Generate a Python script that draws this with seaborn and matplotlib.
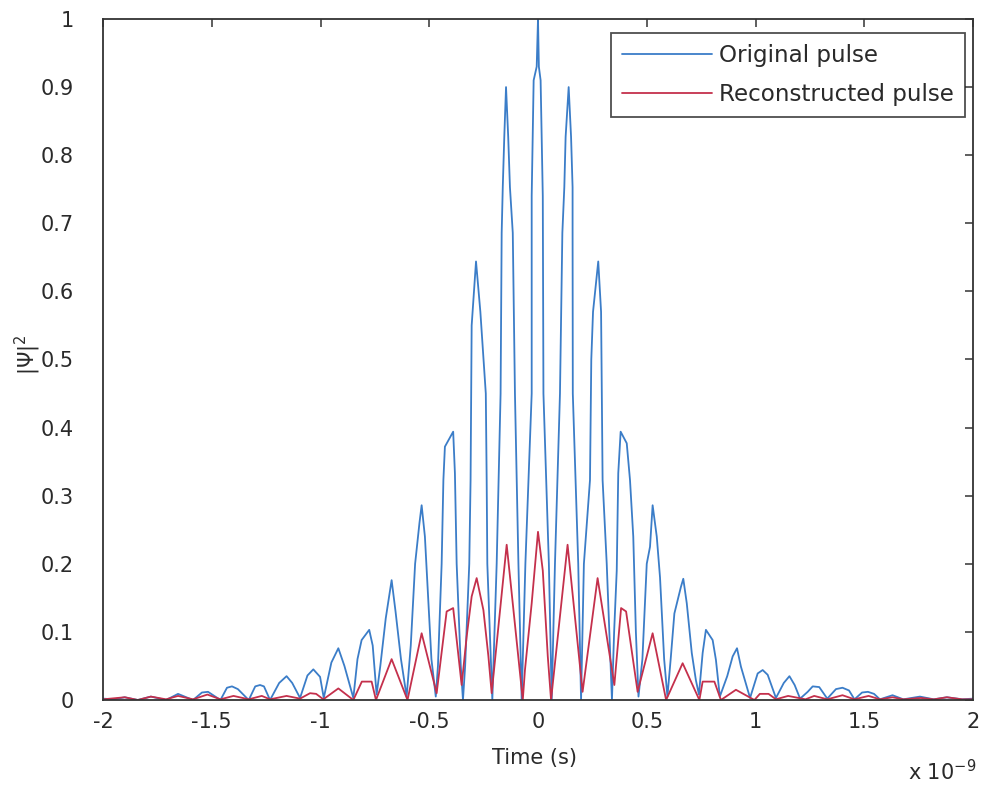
import matplotlib
matplotlib.use("Agg")
import matplotlib.pyplot as plt
import seaborn as sns
import pandas as pd

# ---- data (time in units of 1e-9 s) ----
blue_t = [-2.0, -1.95, -1.9, -1.84, -1.78, -1.71, -1.655, -1.586, -1.545, -1.517, -1.46,
          -1.43, -1.407, -1.38, -1.33, -1.30, -1.278, -1.26, -1.232, -1.19, -1.156, -1.13,
          -1.094, -1.06, -1.033, -1.002, -0.985, -0.95, -0.918, -0.89, -0.849, -0.83, -0.811,
          -0.776, -0.76, -0.742, -0.725, -0.70, -0.673, -0.655, -0.63, -0.604,
          -0.585, -0.565, -0.545, -0.535, -0.52, -0.505, -0.49, -0.47,
          -0.46, -0.443, -0.435, -0.428, -0.39, -0.382, -0.374, -0.355, -0.345,
          -0.335, -0.316, -0.31, -0.305, -0.285, -0.265, -0.24, -0.236, -0.233, -0.21,
          -0.19, -0.172, -0.167, -0.162, -0.155, -0.147, -0.137, -0.129, -0.116, -0.106, -0.09, -0.075,
          -0.058, -0.029, -0.029, -0.02, -0.006, 0.0, 0.004, 0.012, 0.022, 0.025, 0.05, 0.063,
          0.078, 0.101, 0.112, 0.121, 0.127, 0.141, 0.152, 0.159, 0.159, 0.16, 0.185, 0.198,
          0.211, 0.239, 0.245, 0.253, 0.277, 0.29, 0.293, 0.297, 0.316, 0.34,
          0.35, 0.362, 0.369, 0.38, 0.408, 0.423, 0.438, 0.45, 0.462,
          0.48, 0.5, 0.515, 0.527, 0.546, 0.561, 0.58, 0.595,
          0.61, 0.627, 0.657, 0.668, 0.684, 0.707, 0.726, 0.74,
          0.757, 0.772, 0.803, 0.818, 0.836,
          0.87, 0.895, 0.915, 0.933, 0.975,
          1.01, 1.033, 1.056, 1.094,
          1.13, 1.156, 1.18, 1.205,
          1.24, 1.263, 1.293, 1.33,
          1.37, 1.40, 1.43, 1.455,
          1.49, 1.517, 1.545, 1.572,
          1.63, 1.68, 1.756, 1.82, 1.88, 1.95, 2.0]
blue_y = [0.002, 0.001, 0.004, 0.0, 0.005, 0.0, 0.009, 0.0, 0.011, 0.012, 0.0,
          0.018, 0.02, 0.016, 0.0, 0.02, 0.022, 0.02, 0.0, 0.025, 0.035, 0.025,
          0.003, 0.036, 0.045, 0.034, 0.003, 0.055, 0.076, 0.05, 0.003, 0.06, 0.088,
          0.103, 0.08, 0.008, 0.05, 0.12, 0.176, 0.13, 0.06, 0.005,
          0.08, 0.2, 0.26, 0.286, 0.24, 0.15, 0.06, 0.005,
          0.05, 0.2, 0.323, 0.372, 0.394, 0.333, 0.2, 0.05, 0.0,
          0.05, 0.2, 0.323, 0.55, 0.644, 0.57, 0.45, 0.323, 0.2, 0.0,
          0.2, 0.45, 0.686, 0.753, 0.827, 0.9, 0.827, 0.753, 0.686, 0.45, 0.2, 0.0,
          0.2, 0.45, 0.74, 0.91, 0.93, 1.0, 0.93, 0.91, 0.74, 0.45, 0.2, 0.0,
          0.2, 0.45, 0.686, 0.753, 0.827, 0.9, 0.827, 0.753, 0.686, 0.45, 0.2, 0.0,
          0.2, 0.323, 0.5, 0.57, 0.644, 0.57, 0.47, 0.323, 0.2, 0.0,
          0.1, 0.19, 0.333, 0.394, 0.377, 0.323, 0.24, 0.1, 0.005,
          0.06, 0.2, 0.225, 0.286, 0.24, 0.18, 0.06, 0.005,
          0.06, 0.127, 0.166, 0.178, 0.142, 0.069, 0.029, 0.008,
          0.069, 0.103, 0.088, 0.059, 0.005,
          0.035, 0.064, 0.076, 0.049, 0.003,
          0.039, 0.044, 0.037, 0.003,
          0.025, 0.035, 0.022, 0.002,
          0.012, 0.02, 0.019, 0.002,
          0.016, 0.018, 0.014, 0.001,
          0.011, 0.012, 0.009, 0.001,
          0.007, 0.001, 0.005, 0.001, 0.004, 0.001, 0.002]

red_t = [-2.0, -1.9, -1.84, -1.78, -1.71, -1.655, -1.586, -1.52, -1.46, -1.40, -1.33,
         -1.27, -1.232, -1.156, -1.094, -1.048, -1.02, -0.987, -0.918, -0.849, -0.81,
         -0.765, -0.745, -0.673, -0.6, -0.535, -0.466, -0.42, -0.39, -0.351, -0.328,
         -0.305, -0.282, -0.251, -0.228, -0.213, -0.144, -0.07, -0.06, -0.029, 0.0,
         0.022, 0.045, 0.06, 0.136, 0.205, 0.274, 0.351, 0.382, 0.405, 0.458, 0.527,
         0.589, 0.665, 0.742, 0.757, 0.811, 0.841, 0.91, 0.995, 1.02, 1.06, 1.094,
         1.15, 1.23, 1.27, 1.33, 1.40, 1.455, 1.52, 1.572, 1.63, 1.68, 1.76, 1.82,
         1.88, 1.95, 2.0]
red_y = [0.001, 0.004, 0.0, 0.005, 0.001, 0.006, 0.001, 0.008, 0.001, 0.006, 0.001,
         0.006, 0.001, 0.006, 0.002, 0.01, 0.009, 0.001, 0.017, 0.0, 0.027,
         0.027, 0.0, 0.06, 0.0, 0.098, 0.01, 0.13, 0.135, 0.022, 0.093,
         0.152, 0.179, 0.132, 0.064, 0.01, 0.228, 0.0, 0.044, 0.142, 0.247,
         0.19, 0.064, 0.0, 0.228, 0.012, 0.179, 0.022, 0.135, 0.13, 0.012, 0.098,
         0.0, 0.054, 0.0, 0.027, 0.027, 0.0, 0.015, 0.0, 0.009, 0.009, 0.001,
         0.006, 0.001, 0.006, 0.001, 0.007, 0.001, 0.006, 0.001, 0.004, 0.001, 0.003, 0.001,
         0.004, 0.001, 0.001]

x_ticks = [-2, -1.5, -1, -0.5, 0, 0.5, 1, 1.5, 2]
x_tick_labels = ["-2", "-1.5", "-1", "-0.5", "0", "0.5", "1", "1.5", "2"]
y_ticks = [0, 0.1, 0.2, 0.3, 0.4, 0.5, 0.6, 0.7, 0.8, 0.9, 1]
y_tick_labels = ["0", "0.1", "0.2", "0.3", "0.4", "0.5", "0.6", "0.7", "0.8", "0.9", "1"]
series_names = ["Original pulse", "Reconstructed pulse"]

# ---- style ----
sns.set_style("white")
plt.rcParams["font.family"] = ["DejaVu Sans"]
plt.rcParams["axes.unicode_minus"] = False
plt.rcParams["mathtext.fontset"] = "dejavusans"

text_color = "#2a2a2a"
blue = "#3b7dc8"
red = "#c4304c"
fs = 15

W, H = 981, 786
fig = plt.figure(figsize=(W / 100, H / 100), dpi=100)
fig.patch.set_facecolor("white")
ax = fig.add_axes([103 / W, 1 - 700 / H, (973 - 103) / W, (700 - 19) / H])

df_b = pd.DataFrame({"t": blue_t, "y": blue_y})
df_r = pd.DataFrame({"t": red_t, "y": red_y})
sns.lineplot(data=df_b, x="t", y="y", ax=ax, sort=False, estimator=None,
             color=blue, linewidth=1.3, label=series_names[0])
sns.lineplot(data=df_r, x="t", y="y", ax=ax, sort=False, estimator=None,
             color=red, linewidth=1.3, label=series_names[1])

ax.set_xlim(-2, 2)
ax.set_ylim(0, 1)
ax.set_xticks(x_ticks)
ax.set_xticklabels(x_tick_labels)
ax.set_yticks(y_ticks)
ax.set_yticklabels(y_tick_labels)

for s in ax.spines.values():
    s.set_visible(True)
    s.set_color("#333333")
    s.set_linewidth(1.3)

ax.tick_params(axis="both", which="both", direction="in", length=5.5, width=1.1,
               color="#333333", top=True, right=True, labelsize=fs, labelcolor=text_color)
ax.tick_params(axis="y", pad=21)
ax.tick_params(axis="x", pad=9)

ax.set_xlabel("Time (s)", fontsize=fs, color=text_color)
ax.set_ylabel(r"$|\Psi|^2$", fontsize=fs, color=text_color)
ax.xaxis.set_label_coords((535 - 103) / 870, (700 - 748) / 681)
ax.yaxis.set_label_coords((43 - 103) / 870, (700 - 355) / 681)

fig.text(908 / W, 1 - 772 / H, r"x 10$^{\mathregular{-9}}$", fontsize=fs,
         color=text_color, va="center", ha="left")

leg = ax.legend(loc="upper right", bbox_to_anchor=(1 - 8 / 870, 1 - 14 / 681),
                borderaxespad=0, fontsize=16.6, frameon=True, fancybox=False,
                handlelength=3.9, handletextpad=0.3, borderpad=0.48, labelspacing=0.68)
leg.get_frame().set_edgecolor("#222222")
leg.get_frame().set_linewidth(1.3)
for t in leg.get_texts():
    t.set_color(text_color)

fig.savefig("out.png", dpi=100, facecolor="white")
